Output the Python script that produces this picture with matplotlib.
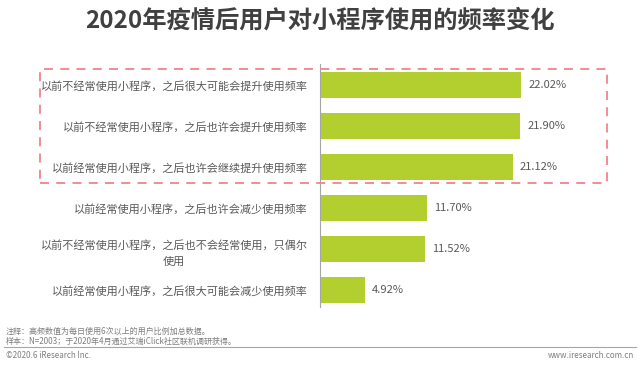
import matplotlib
matplotlib.use("Agg")
import matplotlib.pyplot as plt
from matplotlib.patches import Rectangle
from matplotlib.lines import Line2D

plt.rcParams['font.family'] = ['Noto Sans CJK SC', 'DejaVu Sans']

title = "2020年疫情后用户对小程序使用的频率变化"
categories = [
    "以前不经常使用小程序，之后很大可能会提升使用频率",
    "以前不经常使用小程序，之后也许会提升使用频率",
    "以前经常使用小程序，之后也许会继续提升使用频率",
    "以前经常使用小程序，之后也许会减少使用频率",
    "以前不经常使用小程序，之后也不会经常使用，只偶尔\n使用",
    "以前经常使用小程序，之后很大可能会减少使用频率",
]
values = [22.02, 21.90, 21.12, 11.70, 11.52, 4.92]
value_labels = ["22.02%", "21.90%", "21.12%", "11.70%", "11.52%", "4.92%"]
note1 = "注释：高频数值为每日使用6次以上的用户比例加总数据。"
note2 = "样本：N=2003；于2020年4月通过艾瑞iClick社区联机调研获得。"
footer_left = "©2020.6 iResearch Inc."
footer_right = "www.iresearch.com.cn"

W, H = 640, 367
fig = plt.figure(figsize=(W / 100, H / 100), dpi=100)

def fx(px):
    return px / W

def fy(py):
    return 1 - py / H

ax_left, ax_right, ax_top, ax_bottom = 320, 608, 64, 307
ax = fig.add_axes([fx(ax_left), fy(ax_bottom), fx(ax_right - ax_left), (ax_bottom - ax_top) / H])

bar_color = "#B3CF2F"
ypos = list(range(len(values)))
ax.barh(ypos, values, height=0.62, color=bar_color, zorder=2)
ax.set_xlim(0, 31.5)
ax.set_ylim(5.41, -0.51)

for y, v, lab in zip(ypos, values, value_labels):
    ax.annotate(lab, (v, y), xytext=(5, 0), textcoords="offset points",
                ha="left", va="center", fontsize=8, color="#595959")

ax.set_yticks(ypos)
ax.set_yticklabels(categories, fontsize=8, color="#595959", multialignment="center",
                   linespacing=1.75)
ax.tick_params(axis="y", length=0, pad=9)
ax.set_xticks([])
for s in ["top", "right", "bottom"]:
    ax.spines[s].set_visible(False)
ax.spines["left"].set_color("#A6A6A6")
ax.spines["left"].set_linewidth(0.8)

# dashed highlight box
bx0, bx1, by0, by1 = 40, 607, 69, 183
rect = Rectangle((fx(bx0), fy(by1)), fx(bx1 - bx0), (by1 - by0) / H,
                 transform=fig.transFigure, fill=False, edgecolor="#F0848C",
                 linewidth=1.3, linestyle=(0, (5, 4)), zorder=5)
fig.patches.append(rect)

fig.text(0.5, fy(21), title, ha="center", va="center", fontsize=17.5,
         fontweight="bold", color="#404040")

fig.text(fx(6), fy(331), note1, ha="left", va="center", fontsize=5.8, color="#7F7F7F")
fig.text(fx(6), fy(341), note2, ha="left", va="center", fontsize=5.8, color="#7F7F7F")
fig.add_artist(Line2D([fx(4), fx(636)], [fy(347), fy(347)], transform=fig.transFigure,
                      color="#A6A6A6", linewidth=0.8))
fig.text(fx(6), fy(356), footer_left, ha="left", va="center", fontsize=5.8, color="#7F7F7F")
fig.text(fx(634), fy(356), footer_right, ha="right", va="center", fontsize=5.8, color="#7F7F7F")

fig.savefig("out.png", dpi=100)
